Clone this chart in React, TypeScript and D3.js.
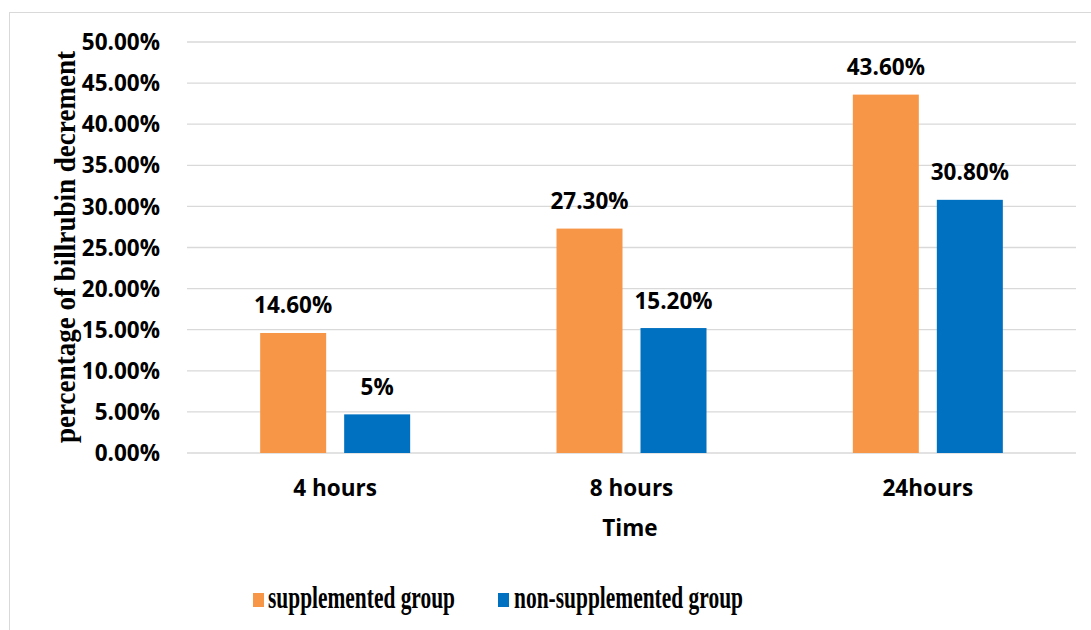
import React from "react";
import * as d3 from "d3";

const categories = ["4 hours", "8 hours", "24hours"];
const seriesNames = ["supplemented group", "non-supplemented group"];
const supplemented = [14.6, 27.3, 43.6];
const nonSupplemented = [4.7, 15.2, 30.8];
const supplementedLabels = ["14.60%", "27.30%", "43.60%"];
const nonSupplementedLabels = ["5%", "15.20%", "30.80%"];
const yTicks = [0, 5, 10, 15, 20, 25, 30, 35, 40, 45, 50];
const colors = ["#F79646", "#0070C0"];

const W = 1091;
const H = 630;
const sans = "'Open Sans', Lato, sans-serif";
const serif = "'Liberation Serif', 'Times New Roman', serif";
const FS = 22.5;

export default function App() {
  const x0 = d3.scaleBand().domain(categories).range([187, 1076]).paddingInner(0).paddingOuter(0);
  const y = d3.scaleLinear().domain([0, 50]).range([453, 42]);
  const barW = 66;
  const gap = 18;
  const series = [
    { name: seriesNames[0], values: supplemented, labels: supplementedLabels, color: colors[0] },
    { name: seriesNames[1], values: nonSupplemented, labels: nonSupplementedLabels, color: colors[1] },
  ];
  const groupW = barW * 2 + gap;
  return (
    <svg width={W} height={H} style={{ position: "absolute", left: 0, top: 0, background: "#fff" }}>
      <rect x={9.5} y={12.5} width={1200} height={700} fill="#fff" stroke="#D9D9D9" strokeWidth={1} />
      {yTicks.map((t) => (
        <g key={t}>
          <line x1={187} x2={1076} y1={y(t)} y2={y(t)} stroke="#D9D9D9" strokeWidth={1.3} />
          <text x={160} y={y(t)} dy="0.36em" textAnchor="end" fontFamily={sans} fontWeight={700} fontSize={FS} fill="#000">
            {t.toFixed(2) + "%"}
          </text>
        </g>
      ))}
      {series.map((s, si) =>
        categories.map((c, ci) => {
          const cx = (x0(c) as number) + x0.bandwidth() / 2;
          const bx = cx - groupW / 2 + si * (barW + gap);
          const v = s.values[ci];
          return (
            <g key={s.name + c}>
              <rect x={bx} y={y(v)} width={barW} height={y(0) - y(v)} fill={s.color} />
              <text x={bx + barW / 2} y={y(v) - 19.5} textAnchor="middle" fontFamily={sans} fontWeight={700} fontSize={FS} fill="#000">
                {s.labels[ci]}
              </text>
            </g>
          );
        })
      )}
      {categories.map((c) => (
        <text key={c} x={(x0(c) as number) + x0.bandwidth() / 2} y={488} dy="0.36em" textAnchor="middle" fontFamily={sans} fontWeight={700} fontSize={FS} fill="#000">
          {c}
        </text>
      ))}
      <text x={630} y={528} dy="0.36em" textAnchor="middle" fontFamily={sans} fontWeight={700} fontSize={FS} fill="#000">
        Time
      </text>
      <text transform={`translate(75,247) rotate(-90)`} textAnchor="middle" fontFamily={serif} fontWeight={700} fontSize={30} fill="#000" textLength={392} lengthAdjust="spacingAndGlyphs">
        percentage of billrubin decrement
      </text>
      <g>
        <rect x={253} y={593} width={11} height={14} fill={colors[0]} />
        <text x={268} y={608} fontFamily={serif} fontWeight={700} fontSize={31} fill="#000" textLength={187} lengthAdjust="spacingAndGlyphs">
          {seriesNames[0]}
        </text>
        <rect x={498} y={593} width={11} height={14} fill={colors[1]} />
        <text x={514} y={608} fontFamily={serif} fontWeight={700} fontSize={31} fill="#000" textLength={229} lengthAdjust="spacingAndGlyphs">
          {seriesNames[1]}
        </text>
      </g>
    </svg>
  );
}
